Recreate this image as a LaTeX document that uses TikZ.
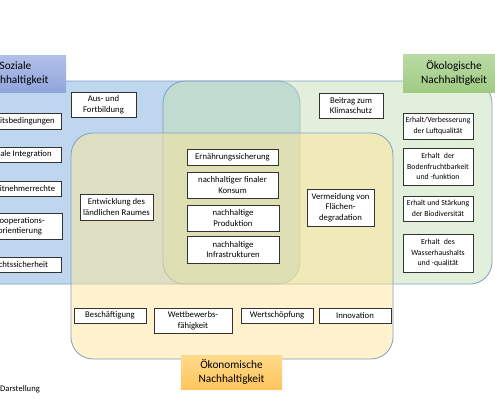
\documentclass[tikz,border=0pt]{standalone}
\usepackage{fontspec}
\setmainfont{Carlito}
\usetikzlibrary{shadings}
\definecolor{blueR}{RGB}{125,175,221}
\definecolor{greenR}{RGB}{197,223,181}
\definecolor{yellowR}{RGB}{255,229,153}
\definecolor{edgeR}{RGB}{127,159,199}
\definecolor{sozTop}{RGB}{178,192,233}
\definecolor{sozBot}{RGB}{143,165,220}
\definecolor{oekTop}{RGB}{186,218,165}
\definecolor{oekBot}{RGB}{160,203,132}
\definecolor{ecoTop}{RGB}{255,218,140}
\definecolor{ecoBot}{RGB}{255,196,92}
\tikzset{
  region/.style={draw=edgeR, line width=0.8pt, rounded corners=22pt, fill opacity=0.5},
  wbox/.style={draw=black!80, fill=white, line width=0.7pt, align=center,
    font=\fontsize{8.7}{10.5}\selectfont, inner sep=0pt},
  rbox/.style={wbox, font=\fontsize{7.8}{10.5}\selectfont},
  lbox/.style={align=center, inner sep=0pt, font=\fontsize{11.3}{13.5}\selectfont},
}
\begin{document}
\begin{tikzpicture}[x=1pt,y=-1pt]
\useasboundingbox (0,0) rectangle (495,400);
\clip (0,0) rectangle (495,400);
% regions
\path[region, fill=blueR] (-40,81) rectangle (300,284);
\path[region, fill=greenR] (163,81) rectangle (492,284);
\path[region, fill=yellowR] (71,133) rectangle (393,359);
% labels
\node[lbox, top color=sozTop, bottom color=sozBot, minimum width=101pt, minimum height=37pt] (soz) at (15.5,73.5) {Soziale\\Nachhaltigkeit};
\node[lbox, top color=oekTop, bottom color=oekBot, minimum width=102pt, minimum height=38pt] (oek) at (454,73) {Ökologische\\Nachhaltigkeit};
\node[lbox, top color=ecoTop, bottom color=ecoBot, minimum width=101pt, minimum height=34pt] (eco) at (231.5,372) {Ökonomische\\Nachhaltigkeit};
% left column
\node[wbox, minimum width=84pt, minimum height=16pt] (ab) at (19,121) {Arbeitsbedingungen};
\node[wbox, minimum width=84pt, minimum height=15pt] (si) at (19,154.5) {Soziale Integration};
\node[wbox, minimum width=84pt, minimum height=15pt] (ar) at (19,188.5) {Arbeitnehmerrechte};
\node[wbox, minimum width=84pt, minimum height=26pt] (ko) at (20,226) {Kooperations-\\orientierung};
\node[wbox, minimum width=84pt, minimum height=15pt] (rs) at (19,264.5) {Rechtssicherheit};
% social / others
\node[wbox, minimum width=65pt, minimum height=25pt] (af) at (103.5,104.5) {Aus- und\\Fortbildung};
\node[wbox, minimum width=73pt, minimum height=26pt] (el) at (116.5,207) {Entwicklung des\\ländlichen Raumes};
% centre
\node[wbox, minimum width=91pt, minimum height=16pt] (es) at (232.5,157.5) {Ernährungssicherung};
\node[wbox, minimum width=91pt, minimum height=26pt] (nk) at (232.5,185) {nachhaltiger finaler\\Konsum};
\node[wbox, minimum width=92pt, minimum height=26pt] (np) at (233,218) {nachhaltige\\Produktion};
\node[wbox, minimum width=92pt, minimum height=27pt] (ni) at (233,249.5) {nachhaltige\\Infrastrukturen};
\node[wbox, minimum width=67pt, minimum height=37pt] (vf) at (340.5,207.5) {Vermeidung von\\Flächen-\\degradation};
\node[wbox, minimum width=64pt, minimum height=25pt] (bk) at (351,105.5) {Beitrag zum\\Klimaschutz};
% right column
\node[rbox, minimum width=70pt, minimum height=26pt] (lq) at (438,126) {Erhalt/Verbesserung\\der Luftqualität};
\node[rbox, minimum width=70pt, minimum height=37pt] (bf) at (438,166.5) {Erhalt\enspace der\\Bodenfruchtbarkeit\\und -funktion};
\node[rbox, minimum width=70pt, minimum height=25pt] (bd) at (438,208.5) {Erhalt und Stärkung\\der Biodiversität};
\node[rbox, minimum width=70pt, minimum height=38pt] (wh) at (438,253) {Erhalt\enspace des\\Wasserhaushalts\\und -qualität};
% bottom row
\node[wbox, minimum width=72pt, minimum height=15pt] (be) at (110,315.5) {Beschäftigung};
\node[wbox, minimum width=78pt, minimum height=25pt] (wf) at (193,320.5) {Wettbewerbs-\\fähigkeit};
\node[wbox, minimum width=72pt, minimum height=15pt] (ws) at (277,315.5) {Wertschöpfung};
\node[wbox, minimum width=72pt, minimum height=15pt] (in) at (355,315.5) {Innovation};
% source
\node[anchor=west, inner sep=0pt, font=\fontsize{8.6}{10}\selectfont] (src) at (0,389) {Darstellung};
\end{tikzpicture}
\end{document}
